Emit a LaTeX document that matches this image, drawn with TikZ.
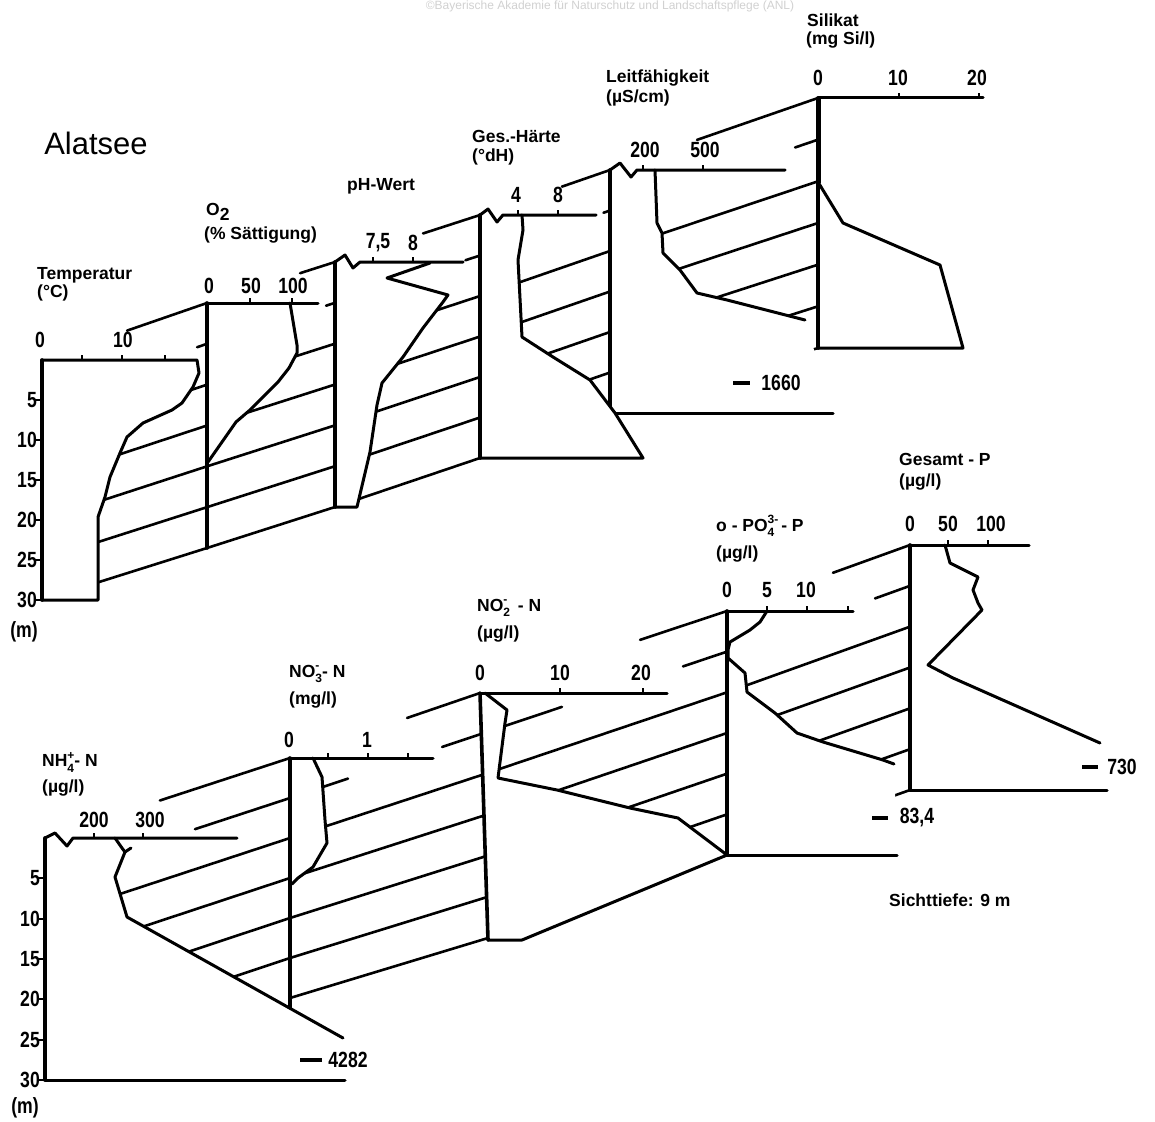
\documentclass[tikz,border=0pt]{standalone}
\usepackage{fontspec}
\setmainfont{Liberation Sans}
\newfontfamily\numf[FakeStretch=0.8]{Liberation Sans}
\usetikzlibrary{calc}
\newcommand\mkax[5]{\foreach \d in {0,5,...,30}{\coordinate (#1\d) at ({#2+(#4-#2)*\d/30},{#3+(#5-#3)*\d/30});}}
\newcommand\dls[3]{\foreach \d in {#3}{\draw[dl] (#1\d) -- (#2\d);}}
\newcommand\sg[5]{\draw[dl] ($(#1#3)!#4!(#2#3)$) -- ($(#1#3)!#5!(#2#3)$);}
\newcommand\ssb[2]{\leavevmode\setbox0=\hbox{\fontsize{12}{12}\selectfont #1}\setbox2=\hbox{\fontsize{12}{12}\selectfont #2}\dimen0=\wd0 \ifdim\wd2>\dimen0 \dimen0=\wd2\fi\rlap{\raise0.8ex\copy2}\lower0.6ex\hbox to\dimen0{\box0\hss}}
\tikzset{
 dl/.style={line width=2.6pt, line cap=round},
 ax/.style={line width=3.6pt, line cap=round, line join=round},
 pr/.style={line width=3pt, line join=round, line cap=round},
 tk/.style={line width=2.2pt},
 num/.style={font=\numf\bfseries\fontsize{22}{22}\selectfont, inner sep=0pt},
 ttl/.style={font=\bfseries\fontsize{17.5}{17.5}\selectfont, inner sep=0pt, anchor=west},
 arr/.style={line width=3.8pt},
}
\begin{document}
\begin{tikzpicture}[x=1pt,y=-1pt]
\useasboundingbox (0,0) rectangle (1155,1121);
\fill[white] (0,0) rectangle (1155,1121);
\node[anchor=north, inner sep=0pt, text=black!18, font=\fontsize{12}{12}\selectfont] (wm) at (610,1) {©Bayerische Akademie für Naturschutz und Landschaftspflege (ANL)};
\node[inner sep=0pt, font=\fontsize{31}{31}\selectfont] (title) at (96,143) {Alatsee};

\mkax{T}{42}{360}{42}{600}
\mkax{O}{207}{303}{207}{548}
\mkax{P}{335}{262}{335}{507}
\mkax{H}{480}{215}{480}{458}
\mkax{L}{610}{170}{610}{413}
\mkax{S}{818}{98}{818}{348}
\mkax{A}{45}{838}{45}{1080}
\mkax{B}{290}{758}{290}{998}
\mkax{C}{480}{693}{488}{938}
\mkax{D}{727}{611}{727}{855}
\mkax{E}{910}{545}{910}{790}

% ===== Silikat
\draw[pr] (818,182)--(843,223)--(940,265)--(963,348)--(818,348);
\draw[ax] (818,98)--(818,348);
\draw[line width=5pt] (818,98)--(818,183);
\draw[pr] (818,98)--(983,98);
\foreach \x in {899,979}{\draw[tk] (\x,98)--(\x,93);}
\node[num] (s0) at (818,78) {0};
\node[num] (s10) at (898,78) {10};
\node[num] (s20) at (977,78) {20};
\node[ttl] (st1) at (807,20) {Silikat};
\node[ttl] (st2) at (806,40) {(mg Si/l)};

% ===== Leitfaehigkeit
\sg{L}{S}{0}{0.418}{1}
\sg{L}{S}{5}{0.89}{1}
\dls{L}{S}{10,15,20,25,30}
\fill[white] (610,170)--(655,170)--(657,223)--(662,233)--(663,253)--(680,270)--(697,293)--(727,300)--(805,320)--(833,413)--(610,413)--cycle;
\draw[pr] (655,170)--(657,223)--(662,233)--(663,253)--(680,270)--(697,293)--(727,300)--(805,320);
\draw[pr] (610,413)--(833,413);
\draw[ax] (610,170)--(610,413);
\draw[pr] (610,170)--(620,163)--(631,177)--(637,170)--(785,170);
\foreach \x in {643,703}{\draw[tk] (\x,170)--(\x,165);}
\node[num] (l200) at (645,150) {200};
\node[num] (l500) at (705,150) {500};
\node[ttl] (lt1) at (606,78) {Leitfähigkeit};
\node[ttl] (lt2) at (606,98) {(µS/cm)};
\draw[arr] (733,383)--(750,383);
\node[num] (l1660) at (781,383) {1660};

% ===== Haerte
\sg{H}{L}{0}{0.63}{1}
\sg{H}{L}{5}{0.95}{1}
\dls{H}{L}{10,15,20,25,30}
\fill[white] (480,215)--(522,215)--(523,230)--(518,260)--(522,337)--(553,357)--(590,380)--(615,413)--(643,458)--(480,458)--cycle;
\draw[pr] (522,215)--(523,230)--(518,260)--(522,337)--(553,357)--(590,380)--(615,413)--(643,458)--(480,458);
\draw[ax] (480,215)--(480,458);
\draw[pr] (480,215)--(488,209)--(497,222)--(503,215)--(596,215);
\foreach \x in {518,558}{\draw[tk] (\x,215)--(\x,210);}
\node[num] (h4) at (516,195) {4};
\node[num] (h8) at (558,195) {8};
\node[ttl] (ht1) at (472,136) {Ges.-Härte};
\node[ttl] (ht2) at (472,157) {(°dH)};

% ===== pH
\sg{P}{H}{0}{0.607}{1}
\sg{P}{H}{5}{0.9}{1}
\dls{P}{H}{10,15,20,25,30}
\fill[white] (335,262)--(430,262)--(387,278)--(448,295)--(443,302)--(423,328)--(403,357)--(382,383)--(377,405)--(370,452)--(357,507)--(335,507)--cycle;
\draw[pr] (430,263)--(387,278)--(448,295)--(443,302)--(423,328)--(403,357)--(382,383)--(377,405)--(370,452)--(357,507)--(335,507);
\draw[ax] (335,262)--(335,507);
\draw[pr] (335,262)--(345,255)--(353,268)--(360,262)--(463,262);
\foreach \x in {373,413}{\draw[tk] (\x,262)--(\x,257);}
\node[num] (p75) at (378,243) {7,5};
\node[num] (p8) at (413,243) {8};
\node[ttl] (pt1) at (347,186) {pH-Wert};

% ===== O2
\sg{O}{P}{0}{0.727}{1}
\sg{O}{P}{5}{0.93}{1}
\dls{O}{P}{10,15,20,25,30}
\fill[white] (207,303)--(290,303)--(297,345)--(297,353)--(289,368)--(278,382)--(250,410)--(236,422)--(208,462)--(207,548)--cycle;
\draw[pr] (290,303)--(297,345)--(297,353)--(289,368)--(278,382)--(250,410)--(236,422)--(208,462);
\draw[ax] (207,303)--(207,548);
\draw[pr] (207,303)--(318,303);
\foreach \x in {250,292}{\draw[tk] (\x,303)--(\x,298);}
\node[num] (o0) at (209,286) {0};
\node[num] (o50) at (251,286) {50};
\node[num] (o100) at (293,286) {100};
\node[ttl] (ot1) at (206,212) {O\lower0.6ex\hbox{2}};
\node[ttl] (ot2) at (204,235) {(\% Sättigung)};

% ===== Temperatur
\sg{T}{O}{0}{0.515}{1}
\sg{T}{O}{5}{0.94}{1}
\dls{T}{O}{10,15,20,25,30}
\fill[white] (42,360)--(197,360)--(199,373)--(193,387)--(182,403)--(172,410)--(143,423)--(127,437)--(120,453)--(110,477)--(105,497)--(98,517)--(98,600)--(42,600)--cycle;
\draw[pr] (42,360)--(197,360)--(199,373)--(193,387)--(182,403)--(172,410)--(143,423)--(127,437)--(120,453)--(110,477)--(105,497)--(98,517)--(98,600)--(42,600);
\draw[ax] (42,360)--(42,600);
\foreach \x in {82,122,165}{\draw[tk] (\x,360)--(\x,355);}
\node[num] (t0) at (40,340) {0};
\node[num] (t10) at (123,340) {10};
\foreach \d in {5,10,...,30}{\draw[tk] (T\d) -- ++(-7,0); \node[num,anchor=east] at ($(T\d)+(-5,0)$) {\d};}
\node[ttl] (tt1) at (37,275) {Temperatur};
\node[ttl] (tt2) at (37,293) {(°C)};
\node[num] (tm) at (24,632) {(m)};

% ===== Gesamt-P
\draw[pr] (945,545)--(950,563)--(978,577)--(973,590)--(978,603)--(982,610)--(928,665)--(953,678)--(1100,743);
\draw[pr] (910,790)--(1107,790);
\draw[ax] (910,545)--(910,790);
\draw[pr] (910,545)--(1029,545);
\foreach \x in {948,988}{\draw[tk] (\x,545)--(\x,540);}
\node[num] (e0) at (910,524) {0};
\node[num] (e50) at (948,524) {50};
\node[num] (e100) at (991,524) {100};
\node[ttl] (et1) at (899,459) {Gesamt - P};
\node[ttl] (et2) at (899,482) {(µg/l)};
\draw[arr] (1082,767)--(1098,767);
\node[num] (e730) at (1122,767) {730};

% ===== PO4
\sg{D}{E}{0}{0.579}{1}
\sg{D}{E}{5}{0.809}{1}
\dls{D}{E}{10,15,20,25,30}
\fill[white] (727,611)--(767,611)--(760,622)--(750,630)--(730,642)--(728,650)--(728,658)--(745,673)--(747,692)--(775,713)--(797,733)--(823,742)--(883,760)--(894,764)--(897,855)--(727,855)--cycle;
\draw[pr] (767,611)--(760,622)--(750,630)--(730,642)--(728,650)--(728,658)--(745,673)--(747,692)--(775,713)--(797,733)--(823,742)--(883,760)--(894,764);
\draw[pr] (727,855)--(897,855);
\draw[ax] (727,611)--(727,855);
\draw[pr] (727,611)--(853,611);
\foreach \x in {767,807,848}{\draw[tk] (\x,611)--(\x,606);}
\node[num] (d0) at (727,590) {0};
\node[num] (d5) at (767,590) {5};
\node[num] (d10) at (806,590) {10};
\node[ttl] (dt1) at (716,526) {o - PO\ssb{4}{3-}\,- P};
\node[ttl] (dt2) at (716,554) {(µg/l)};
\draw[arr] (872,818)--(888,818);
\node[num] (d834) at (917,818) {83,4};

% ===== NO2
\sg{C}{D}{0}{0.648}{1}
\sg{C}{D}{5}{0}{0.328}
\sg{C}{D}{5}{0.821}{1}
\dls{C}{D}{10,15,20,25,30}
\fill[white] (480,693)--(487,693)--(507,710)--(505,723)--(498,778)--(557,790)--(630,808)--(678,818)--(727,855)--(522,940)--(488,940)--cycle;
\draw[pr] (485,693)--(507,710)--(505,723)--(498,778)--(557,790)--(630,808)--(678,818)--(727,855)--(522,940)--(488,940);
\draw[ax] (480,693)--(488,940);
\draw[pr] (480,693)--(667,693);
\foreach \x in {560,643}{\draw[tk] (\x,693)--(\x,688);}
\node[num] (c0) at (480,673) {0};
\node[num] (c10) at (560,673) {10};
\node[num] (c20) at (641,673) {20};
\node[ttl] (ct1) at (477,608) {NO\ssb{2}{-}\, - N};
\node[ttl] (ct2) at (477,634) {(µg/l)};

% ===== NO3
\sg{B}{C}{0}{0.616}{1}
\sg{B}{C}{5}{0}{0.303}
\sg{B}{C}{5}{0.795}{1}
\dls{B}{C}{10,15,20,25,30}
\fill[white] (290,758)--(313,758)--(322,777)--(325,820)--(327,843)--(313,867)--(298,878)--(292,884)--(290,1008)--cycle;
\draw[pr] (313,758)--(322,777)--(325,820)--(327,843)--(313,867)--(298,878)--(292,884);
\draw[ax] (290,758)--(290,1008);
\draw[pr] (290,758)--(433,758);
\foreach \x in {328,368,408}{\draw[tk] (\x,758)--(\x,753);}
\node[num] (b0) at (289,740) {0};
\node[num] (b1) at (367,740) {1};
\node[ttl] (bt1) at (289,674) {NO\ssb{3}{-}- N};
\node[ttl] (bt2) at (289,700) {(mg/l)};

% ===== NH4
\sg{A}{B}{0}{0.469}{1}
\sg{A}{B}{5}{0.612}{1}
\dls{A}{B}{10,15,20,25}
\fill[white] (45,838)--(115,838)--(122,848)--(125,852)--(115,877)--(127,917)--(343,1038)--(345,1080)--(45,1080)--cycle;
\draw[pr] (115,838)--(122,848)--(125,852)--(115,877)--(127,917)--(343,1038);
\draw[pr] (125,852)--(131,848);
\draw[pr] (45,1080)--(345,1080);
\draw[ax] (45,838)--(45,1080);
\draw[pr] (45,838)--(55,833)--(67,846)--(73,838)--(237,838);
\foreach \x in {94,143}{\draw[tk] (\x,838)--(\x,833);}
\node[num] (a200) at (94,820) {200};
\node[num] (a300) at (150,820) {300};
\foreach \d in {5,10,...,30}{\draw[tk] (A\d) -- ++(-7,0); \node[num,anchor=east] at ($(A\d)+(-5,0)$) {\d};}
\node[ttl] (at1) at (42,762) {NH\ssb{4}{+}- N};
\node[ttl] (at2) at (42,788) {(µg/l)};
\node[num] (am) at (25,1108) {(m)};
\draw[arr] (300,1060)--(322,1060);
\node[num] (a4282) at (348,1060) {4282};

\node[ttl] (sicht) at (889,900) {Sichttiefe: 9 m};
\end{tikzpicture}
\end{document}
